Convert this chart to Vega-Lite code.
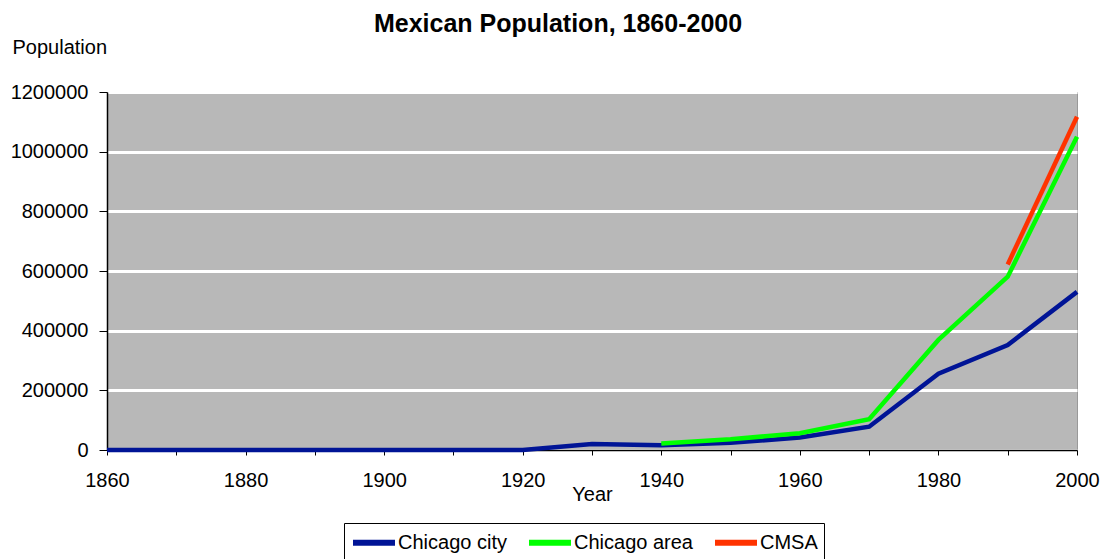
{
  "$schema": "https://vega.github.io/schema/vega-lite/v6.json",
  "width": 970,
  "height": 358,
  "autosize": {"type": "none"},
  "padding": {"left": 107, "top": 92, "right": 27, "bottom": 109},
  "background": "white",
  "title": {
    "text": "Mexican Population, 1860-2000",
    "font": "Liberation Sans",
    "fontSize": 25,
    "fontWeight": "bold",
    "color": "black",
    "anchor": "middle",
    "dx": -34,
    "offset": 0
  },
  "config": {
    "view": {"fill": "#B8B8B8", "stroke": "#999999", "strokeWidth": 1},
    "font": "Liberation Sans"
  },
  "data": {
    "values": [
      {"year": 1860, "series": "Chicago city", "pop": 0},
      {"year": 1870, "series": "Chicago city", "pop": 0},
      {"year": 1880, "series": "Chicago city", "pop": 0},
      {"year": 1890, "series": "Chicago city", "pop": 0},
      {"year": 1900, "series": "Chicago city", "pop": 0},
      {"year": 1910, "series": "Chicago city", "pop": 0},
      {"year": 1920, "series": "Chicago city", "pop": 0},
      {"year": 1930, "series": "Chicago city", "pop": 20000},
      {"year": 1940, "series": "Chicago city", "pop": 16000},
      {"year": 1950, "series": "Chicago city", "pop": 24000},
      {"year": 1960, "series": "Chicago city", "pop": 42000},
      {"year": 1970, "series": "Chicago city", "pop": 78000},
      {"year": 1980, "series": "Chicago city", "pop": 256000},
      {"year": 1990, "series": "Chicago city", "pop": 352000},
      {"year": 2000, "series": "Chicago city", "pop": 530000},
      {"year": 1940, "series": "Chicago area", "pop": 22000},
      {"year": 1950, "series": "Chicago area", "pop": 36000},
      {"year": 1960, "series": "Chicago area", "pop": 56000},
      {"year": 1970, "series": "Chicago area", "pop": 103000},
      {"year": 1980, "series": "Chicago area", "pop": 369000},
      {"year": 1990, "series": "Chicago area", "pop": 581000},
      {"year": 2000, "series": "Chicago area", "pop": 1050000},
      {"year": 1990, "series": "CMSA", "pop": 622000},
      {"year": 2000, "series": "CMSA", "pop": 1117000}
    ]
  },
  "mark": {"type": "line", "strokeWidth": 4.5, "clip": false},
  "encoding": {
    "x": {
      "field": "year",
      "type": "quantitative",
      "scale": {"domain": [1860, 2000], "nice": false, "zero": false},
      "axis": {
        "values": [1860, 1870, 1880, 1890, 1900, 1910, 1920, 1930, 1940, 1950, 1960, 1970, 1980, 1990, 2000],
        "labelExpr": "datum.value % 20 == 0 ? datum.label : ''",
        "format": "d",
        "grid": false,
        "domainColor": "black",
        "domainWidth": 1.5,
        "tickColor": "black",
        "tickSize": 5,
        "labelFontSize": 20,
        "labelColor": "black",
        "labelPadding": 15,
        "labelFlush": false,
        "title": "Year",
        "titleFontSize": 20,
        "titleFontWeight": "normal",
        "titleColor": "black",
        "titlePadding": -6
      }
    },
    "y": {
      "field": "pop",
      "type": "quantitative",
      "scale": {"domain": [0, 1200000], "nice": false},
      "axis": {
        "values": [0, 200000, 400000, 600000, 800000, 1000000, 1200000],
        "format": "d",
        "grid": true,
        "gridColor": "white",
        "gridWidth": 3,
        "domainColor": "black",
        "domainWidth": 1.5,
        "tickColor": "black",
        "tickSize": 8,
        "labelFontSize": 20,
        "labelColor": "black",
        "labelPadding": 11,
        "title": "Population",
        "titleAngle": 0,
        "titleFontSize": 20,
        "titleFontWeight": "normal",
        "titleColor": "black",
        "titleAlign": "left",
        "titleBaseline": "middle",
        "titleX": -95,
        "titleY": -45
      }
    },
    "color": {
      "field": "series",
      "type": "nominal",
      "scale": {"domain": ["Chicago city", "Chicago area", "CMSA"], "range": ["#001496", "#00FF00", "#FF3300"]},
      "legend": {
        "title": null,
        "orient": "none",
        "direction": "horizontal",
        "legendX": 237,
        "legendY": 431,
        "strokeColor": "black",
        "padding": 6,
        "symbolType": "M-1,0H3",
        "symbolStrokeWidth": 6,
        "symbolSize": 441,
        "labelFontSize": 20,
        "labelColor": "black",
        "labelOffset": 21,
        "columnPadding": 10
      }
    }
  }
}
